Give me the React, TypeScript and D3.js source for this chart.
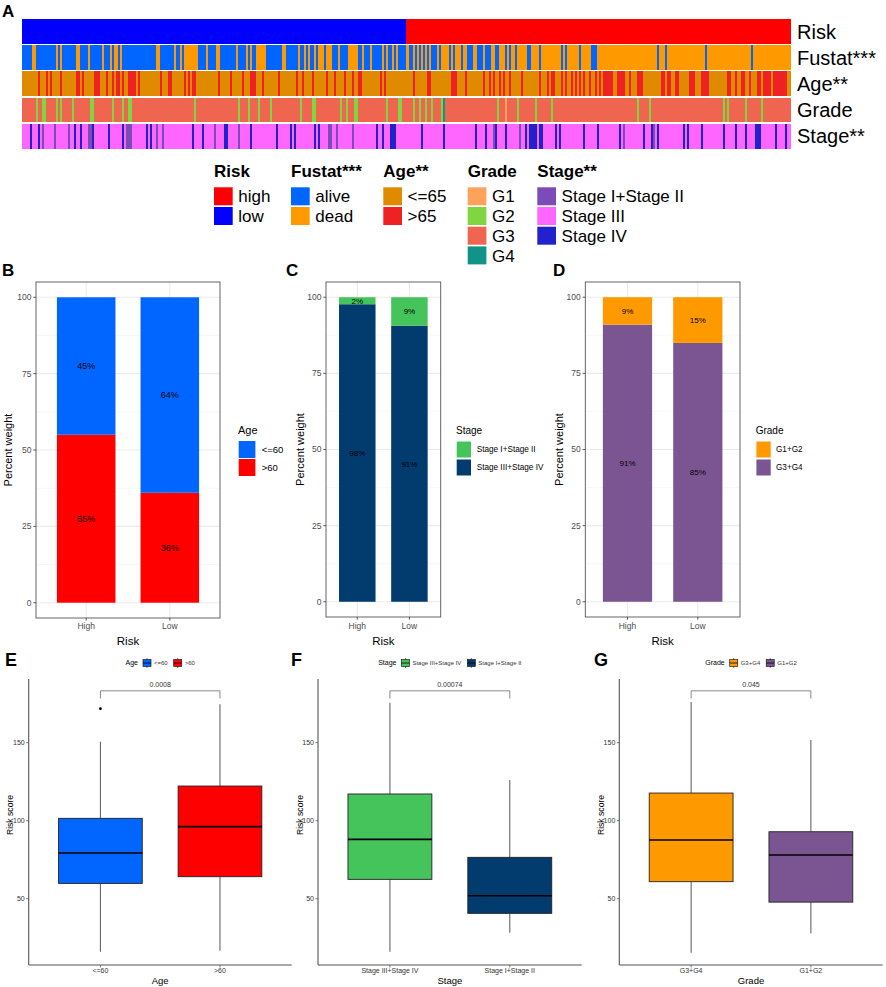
import React from 'react';
import * as d3 from 'd3';

const FONT = "'Liberation Sans', Arial, Helvetica, sans-serif";

// ---------------- Heatmap (panel A) data ----------------
const N_SAMPLES = 385;
const RISK_LOW_COUNT = 192;

const fustatDead: [number, number][] = [
  [5, 7], [17, 18], [19, 20], [27, 29], [33, 34], [40, 41], [44, 45], [46, 48], [49, 50], [67, 69], [76, 77], [79, 80], [81, 88],
  [92, 93], [97, 99], [107, 108], [112, 113], [114, 115], [117, 122], [130, 132], [138, 139], [141, 142], [143, 144], [146, 147],
  [148, 151], [152, 155], [158, 159], [163, 168], [170, 171], [174, 175], [180, 181], [182, 183], [185, 186], [187, 188],
  [192, 194], [196, 197], [198, 199], [200, 201], [202, 203], [204, 205], [208, 209], [210, 214], [215, 216], [217, 220],
  [221, 223], [226, 228], [231, 232], [235, 237], [239, 242], [243, 244], [245, 247], [248, 253], [255, 259], [260, 270],
  [271, 272], [273, 279], [280, 285], [288, 318], [319, 322], [323, 342], [343, 365], [366, 385],
];

const ageOver65: [number, number][] = [
  [8, 9], [12, 13], [14, 15], [19, 20], [27, 29], [30, 31], [36, 39], [42, 43], [45, 46], [47, 49], [50, 51], [53, 57], [58, 59],
  [69, 70], [73, 75], [81, 82], [83, 84], [85, 87], [98, 99], [104, 105], [110, 111], [114, 117], [120, 121], [128, 129],
  [137, 138], [140, 141], [145, 146], [152, 153], [156, 157], [161, 162], [165, 166], [168, 170], [179, 180], [181, 182],
  [196, 197], [203, 205], [215, 218], [222, 223], [231, 232], [234, 235], [236, 237], [239, 240], [241, 242], [244, 245],
  [250, 251], [259, 260], [263, 264], [265, 267], [270, 271], [272, 273], [275, 276], [277, 278], [279, 280], [281, 282],
  [284, 285], [287, 288], [289, 290], [291, 296], [298, 302], [304, 305], [308, 311], [320, 322], [323, 325], [327, 329],
  [334, 337], [340, 344], [353, 355], [357, 358], [360, 362], [364, 365], [368, 370], [371, 375], [376, 383],
];

const gradeG2: [number, number][] = [
  [7, 8], [10, 12], [17, 18], [19, 20], [25, 26], [34, 36], [45, 46], [50, 51], [53, 55], [86, 87], [108, 109], [113, 114],
  [118, 119], [124, 125], [139, 140], [145, 147], [159, 160], [162, 163], [166, 168], [182, 183], [188, 190], [196, 197],
  [199, 200], [202, 203], [205, 206], [210, 211], [238, 239], [248, 249], [257, 258], [265, 266], [308, 309], [314, 315],
  [351, 352], [353, 354], [362, 363], [370, 371],
];
const gradeG1: [number, number][] = [[242, 243]];
const gradeG4: [number, number][] = [[211, 212]];

const stageIV: [number, number][] = [
  [4, 5], [8, 9], [26, 27], [29, 30], [35, 36], [43, 44], [50, 51], [62, 63], [64, 65], [85, 86], [90, 91], [101, 103],
  [114, 115], [127, 128], [134, 135], [136, 137], [146, 147], [148, 149], [177, 178], [180, 181], [184, 187], [200, 201],
  [211, 212], [227, 228], [232, 233], [237, 238], [242, 243], [252, 253], [254, 258], [259, 261], [267, 268], [269, 270],
  [281, 282], [288, 289], [299, 300], [311, 312], [315, 316], [318, 319], [331, 332], [333, 334], [340, 341], [351, 352],
  [357, 358], [362, 363], [367, 370], [377, 378], [382, 383],
];
const stageI_II: [number, number][] = [
  [10, 11], [16, 17], [23, 24], [33, 35], [52, 55], [67, 68], [70, 71], [96, 97], [108, 109], [153, 155], [157, 158],
  [165, 166], [236, 237], [249, 250], [301, 302], [316, 317],
];

const riskLevels = ['high', 'low'];
const riskColors = ['#FF0000', '#0000FF'];
const fustatLevels = ['alive', 'dead'];
const fustatColors = ['#0066FF', '#FF9900'];
const ageLevels = ['<=65', '>65'];
const ageColors = ['#E08A00', '#EE2222'];
const gradeLevels = ['G1', 'G2', 'G3', 'G4'];
const gradeColors = ['#FFA35C', '#80D641', '#F0654F', '#109488'];
const stageLevels = ['Stage I+Stage II', 'Stage III', 'Stage IV'];
const stageColors = ['#7B4BB8', '#FF66FF', '#2222CC'];
const heatRowLabels = ['Risk', 'Fustat***', 'Age**', 'Grade', 'Stage**'];
const legendTitles = ['Risk', 'Fustat***', 'Age**', 'Grade', 'Stage**'];

// ---------------- Bar panels (B, C, D) data ----------------
const riskGroups = ['High', 'Low'];
const ageBarLevels = ['<=60', '>60'];
const ageBarColors = ['#0066FF', '#FF0000'];
const agePctUnder60 = [45, 64];
const agePctOver60 = [55, 36];

const stageBarLevels = ['Stage I+Stage II', 'Stage III+Stage IV'];
const stageBarColors = ['#46C45C', '#023B6E'];
const stagePctI_II = [2.3, 9.4];
const stagePctIII_IV = [97.7, 90.6];

const gradeBarLevels = ['G1+G2', 'G3+G4'];
const gradeBarColors = ['#FF9900', '#7B5592'];
const gradePctG1G2 = [9, 15];
const gradePctG3G4 = [91, 85];

const pctTicks = [0, 25, 50, 75, 100];

// ---------------- Box panels (E, F, G) data ----------------
// [lower whisker, Q1, median, Q3, upper whisker]
const ageBoxCats = ['<=60', '>60'];
const ageBoxColors = ['#0066FF', '#FF0000'];
const ageBoxStats = [[16, 59.8, 79.3, 101.5, 150.6], [16.7, 64.1, 96.2, 122.2, 174.6]];
const ageBoxOutliers = [[171.8], []];
const ageP = '0.0008';

const stageBoxCats = ['Stage III+Stage IV', 'Stage I+Stage II'];
const stageBoxColors = ['#46C45C', '#023B6E'];
const stageBoxStats = [[16, 62.4, 88, 117.1, 175.6], [28.2, 40.6, 51.9, 76.5, 126.1]];
const stageBoxOutliers = [[], []];
const stageP = '0.00074';

const gradeBoxCats = ['G3+G4', 'G1+G2'];
const gradeBoxColors = ['#FF9900', '#7B5592'];
const gradeBoxStats = [[15.4, 60.9, 87.6, 117.7, 176], [27.8, 47.8, 78, 92.9, 151.7]];
const gradeBoxOutliers = [[], []];
const gradeP = '0.045';

const scoreTicks = [50, 100, 150];
const bracketValue = 183.2;
const bracketDrop = 178.3;

// ---------------- helpers ----------------
let measureCtx: CanvasRenderingContext2D | null = null;
function textWidth(t: string, size: number, weight = 'normal') {
  if (!measureCtx) measureCtx = document.createElement('canvas').getContext('2d');
  if (!measureCtx) return t.length * size * 0.55;
  measureCtx.font = `${weight} ${size}px ${FONT}`;
  return measureCtx.measureText(t).width;
}

function buildRow(defaultVal: string, overrides: [string, [number, number][]][]) {
  const arr: string[] = new Array(N_SAMPLES).fill(defaultVal);
  for (const [val, ivs] of overrides) {
    for (const [a, b] of ivs) for (let i = a; i < b && i < N_SAMPLES; i++) arr[i] = val;
  }
  return arr;
}

function toRuns(arr: string[]) {
  const runs: { start: number; end: number; value: string }[] = [];
  let s = 0;
  for (let i = 1; i <= arr.length; i++) {
    if (i === arr.length || arr[i] !== arr[s]) {
      runs.push({ start: s, end: i, value: arr[s] });
      s = i;
    }
  }
  return runs;
}

// ---------------- Panel A ----------------
function Heatmap() {
  const x = d3.scaleLinear().domain([0, N_SAMPLES]).range([22, 791]);
  const rowY = d3.scaleLinear().domain([0, 1]).range([19, 45.2]);
  const rowH = 24.7;

  const rows = [
    { values: buildRow('low', [['high', [[RISK_LOW_COUNT, N_SAMPLES]]]]), levels: riskLevels, colors: riskColors },
    { values: buildRow('alive', [['dead', fustatDead]]), levels: fustatLevels, colors: fustatColors },
    { values: buildRow('<=65', [['>65', ageOver65]]), levels: ageLevels, colors: ageColors },
    { values: buildRow('G3', [['G2', gradeG2], ['G1', gradeG1], ['G4', gradeG4]]), levels: gradeLevels, colors: gradeColors },
    { values: buildRow('Stage III', [['Stage IV', stageIV], ['Stage I+Stage II', stageI_II]]), levels: stageLevels, colors: stageColors },
  ];

  const legendX = [214, 291, 383.3, 467.7, 537.3];
  const legendGroups = [
    { levels: riskLevels, colors: riskColors },
    { levels: fustatLevels, colors: fustatColors },
    { levels: ageLevels, colors: ageColors },
    { levels: gradeLevels, colors: gradeColors },
    { levels: stageLevels, colors: stageColors },
  ];

  return (
    <g>
      <text x={2} y={17} fontSize={17} fontWeight="bold" fontFamily={FONT}>A</text>
      {rows.map((row, ri) => {
        const color = d3.scaleOrdinal<string, string>().domain(row.levels).range(row.colors);
        return (
          <g key={ri}>
            {toRuns(row.values).map((r, k) => (
              <rect key={k} x={x(r.start)} y={rowY(ri)} width={x(r.end) - x(r.start)} height={rowH}
                fill={color(r.value)} shapeRendering="crispEdges" />
            ))}
            <text x={797} y={rowY(ri) + rowH / 2} dy="0.36em" fontSize={20} fontFamily={FONT}>{heatRowLabels[ri]}</text>
          </g>
        );
      })}
      {legendGroups.map((g, gi) => (
        <g key={gi}>
          <text x={legendX[gi]} y={177} fontSize={17} fontWeight="bold" fontFamily={FONT}>{legendTitles[gi]}</text>
          {g.levels.map((lv, li) => (
            <g key={li}>
              <rect x={legendX[gi]} y={187.3 + li * 19.7} width={18.7} height={18} fill={g.colors[li]} />
              <text x={legendX[gi] + 24.3} y={187.3 + li * 19.7 + 9} dy="0.36em" fontSize={17} fontFamily={FONT}>{lv}</text>
            </g>
          ))}
        </g>
      ))}
    </g>
  );
}

// ---------------- Bar panel ----------------
type BarProps = {
  letter: string; letterX: number;
  left: number; right: number; top: number; bottom: number;
  levels: string[]; colors: string[]; values: number[][]; // values[level][group], level order = legend order (top of stack first)
  legendTitle: string; legendX: number; keyW: number; keyH: number; keyGap: number; labelOff: number;
  titleSize: number; labelSize: number; pctSize: number; yTitleX: number;
};

function BarPanel(p: BarProps) {
  const x = d3.scaleLinear().domain([0.4, 2.6]).range([p.left, p.right]);
  const y = d3.scaleLinear().domain([-5, 105]).range([p.bottom, p.top]);
  const bw = x(1.35) - x(0.65);
  const minor = [12.5, 37.5, 62.5, 87.5];
  const stackOrder = [...p.levels.keys()].reverse();
  const segs: { g: number; lv: number; y0: number; y1: number }[] = [];
  riskGroups.forEach((_, gi) => {
    let acc = 0;
    stackOrder.forEach((lv) => {
      const v = p.values[lv][gi];
      segs.push({ g: gi, lv, y0: acc, y1: acc + v });
      acc += v;
    });
  });
  const midY = (p.top + p.bottom) / 2;
  const legTop = 441 - (p.keyH - 17) / 2;
  return (
    <g fontFamily={FONT}>
      <text x={p.letterX} y={276} fontSize={17} fontWeight="bold">{p.letter}</text>
      <rect x={p.left} y={p.top} width={p.right - p.left} height={p.bottom - p.top} fill="#fff" />
      {minor.map((t) => (
        <line key={'m' + t} x1={p.left} x2={p.right} y1={y(t)} y2={y(t)} stroke="#F2F2F2" strokeWidth={0.6} />
      ))}
      {pctTicks.map((t) => (
        <line key={'M' + t} x1={p.left} x2={p.right} y1={y(t)} y2={y(t)} stroke="#EBEBEB" strokeWidth={1.1} />
      ))}
      {riskGroups.map((_, gi) => (
        <line key={'v' + gi} x1={x(gi + 1)} x2={x(gi + 1)} y1={p.top} y2={p.bottom} stroke="#EBEBEB" strokeWidth={1.1} />
      ))}
      {segs.map((s, i) => (
        <rect key={i} x={x(s.g + 1) - bw / 2} y={y(s.y1)} width={bw} height={y(s.y0) - y(s.y1)} fill={p.colors[s.lv]} />
      ))}
      {segs.map((s, i) => (
        <text key={'t' + i} x={x(s.g + 1)} y={y((s.y0 + s.y1) / 2)} dy="0.35em" textAnchor="middle" fontSize={p.pctSize} fill="#000">
          {Math.round(s.y1 - s.y0)}%
        </text>
      ))}
      <rect x={p.left} y={p.top} width={p.right - p.left} height={p.bottom - p.top} fill="none" stroke="#555" strokeWidth={0.9} />
      {pctTicks.map((t) => (
        <g key={'yt' + t}>
          <line x1={p.left - 2.7} x2={p.left} y1={y(t)} y2={y(t)} stroke="#333" strokeWidth={0.8} />
          <text x={p.left - 4.5} y={y(t)} dy="0.35em" textAnchor="end" fontSize={8.5} fill="#4D4D4D">{t}</text>
        </g>
      ))}
      {riskGroups.map((gname, gi) => (
        <g key={'xt' + gi}>
          <line x1={x(gi + 1)} x2={x(gi + 1)} y1={p.bottom} y2={p.bottom + 2.7} stroke="#333" strokeWidth={0.8} />
          <text x={x(gi + 1)} y={626.5} dy="0.35em" textAnchor="middle" fontSize={8.5} fill="#4D4D4D">{gname}</text>
        </g>
      ))}
      <text x={(p.left + p.right) / 2} y={640.5} dy="0.35em" textAnchor="middle" fontSize={11.5}>Risk</text>
      <text transform={`translate(${p.yTitleX},${midY}) rotate(-90)`} dy="0.35em" textAnchor="middle" fontSize={11}>Percent weight</text>
      <text x={p.legendX} y={433.5} fontSize={p.titleSize}>{p.legendTitle}</text>
      {p.levels.map((lv, li) => (
        <g key={'lg' + li}>
          <rect x={p.legendX + 0.7} y={legTop + li * p.keyGap} width={p.keyW} height={p.keyH} fill={p.colors[li]} />
          <text x={p.legendX + p.labelOff} y={legTop + li * p.keyGap + p.keyH / 2} dy="0.35em" fontSize={p.labelSize}>{lv}</text>
        </g>
      ))}
    </g>
  );
}

// ---------------- Box panel ----------------
type BoxProps = {
  letter: string; letterX: number; left: number; right: number;
  cats: string[]; colors: string[]; stats: number[][]; outliers: number[][];
  legendTitle: string; pText: string; xTitle: string;
};

function BoxPanel(p: BoxProps) {
  const x = d3.scaleLinear().domain([0.4, 2.6]).range([p.left, p.right]);
  const y = d3.scaleLinear().domain([7.5, 190.8]).range([965, 679]);
  const half = x(1.35) - x(1);
  const midY = (679 + 965) / 2;

  const titleW = textWidth(p.legendTitle, 7);
  const labW = p.cats.map((c) => textWidth(c, 6));
  const glyphW = 8;
  const total = titleW + 5 + (glyphW + 3) * 2 + labW[0] + 6 + labW[1];
  let lx = (p.left + p.right) / 2 - total / 2;
  const legY = 663;
  const items: React.ReactNode[] = [];
  items.push(<text key="lt" x={lx} y={legY} dy="0.35em" fontSize={7} fill="#000">{p.legendTitle}</text>);
  lx += titleW + 5;
  p.cats.forEach((c, i) => {
    const gx = lx;
    items.push(
      <g key={'lg' + i}>
        <line x1={gx + glyphW / 2} x2={gx + glyphW / 2} y1={legY - 5} y2={legY + 5} stroke="#333" strokeWidth={0.7} />
        <rect x={gx} y={legY - 3.5} width={glyphW} height={7} fill={p.colors[i]} stroke="#222" strokeWidth={0.7} />
        <line x1={gx} x2={gx + glyphW} y1={legY} y2={legY} stroke="#000" strokeWidth={0.8} />
        <text x={gx + glyphW + 3} y={legY} dy="0.35em" fontSize={6} fill="#333">{c}</text>
      </g>
    );
    lx += glyphW + 3 + labW[i] + 6;
  });

  const by = y(bracketValue);
  const bd = y(bracketDrop);
  return (
    <g fontFamily={FONT}>
      <text x={p.letterX} y={665.5} fontSize={18} fontWeight="bold">{p.letter}</text>
      {items}
      {p.stats.map((s, i) => {
        const cx = x(i + 1);
        return (
          <g key={i}>
            <line x1={cx} x2={cx} y1={y(s[0])} y2={y(s[1])} stroke="#666" strokeWidth={1.1} />
            <line x1={cx} x2={cx} y1={y(s[3])} y2={y(s[4])} stroke="#666" strokeWidth={1.1} />
            <rect x={cx - half} y={y(s[3])} width={half * 2} height={y(s[1]) - y(s[3])} fill={p.colors[i]} stroke="#222" strokeWidth={0.9} />
            <line x1={cx - half} x2={cx + half} y1={y(s[2])} y2={y(s[2])} stroke="#000" strokeWidth={1.6} />
            {p.outliers[i].map((o, k) => (
              <circle key={k} cx={cx} cy={y(o)} r={1.4} fill="#000" />
            ))}
          </g>
        );
      })}
      <path d={`M${x(1)},${bd}V${by}H${x(2)}V${bd}`} fill="none" stroke="#888" strokeWidth={1} />
      <text x={(x(1) + x(2)) / 2} y={by - 4} textAnchor="middle" fontSize={7} fill="#333">{p.pText}</text>
      <line x1={p.left} x2={p.left} y1={679} y2={965} stroke="#555" strokeWidth={1.1} />
      <line x1={p.left} x2={p.right} y1={965} y2={965} stroke="#555" strokeWidth={1.1} />
      {scoreTicks.map((t) => (
        <g key={t}>
          <line x1={p.left - 2.5} x2={p.left} y1={y(t)} y2={y(t)} stroke="#555" strokeWidth={0.8} />
          <text x={p.left - 4} y={y(t)} dy="0.35em" textAnchor="end" fontSize={7} fill="#333">{t}</text>
        </g>
      ))}
      {p.cats.map((c, i) => (
        <g key={'x' + i}>
          <line x1={x(i + 1)} x2={x(i + 1)} y1={965} y2={967.5} stroke="#555" strokeWidth={0.8} />
          <text x={x(i + 1)} y={971} dy="0.35em" textAnchor="middle" fontSize={7} fill="#333">{c}</text>
        </g>
      ))}
      <text x={(p.left + p.right) / 2} y={981} dy="0.35em" textAnchor="middle" fontSize={9.5}>{p.xTitle}</text>
      <text transform={`translate(${p.left - 18.5},${midY - 7}) rotate(-90)`} dy="0.35em" textAnchor="middle" fontSize={8.6}>Risk score</text>
    </g>
  );
}

export default function App() {
  return (
    <div style={{ position: 'absolute', left: 0, top: 0, background: '#fff' }}>
      <svg width={886} height={987} viewBox="0 0 886 987" style={{ display: 'block', background: '#fff' }}>
        <rect width={886} height={987} fill="#fff" />
        <Heatmap />
        <BarPanel letter="B" letterX={2} left={36} right={220} top={282} bottom={618}
          levels={ageBarLevels} colors={ageBarColors} values={[agePctUnder60, agePctOver60]}
          legendTitle="Age" legendX={238} keyW={16.7} keyH={17} keyGap={18} labelOff={23.7}
          titleSize={11} labelSize={9.5} pctSize={9} yTitleX={8} />
        <BarPanel letter="C" letterX={286} left={326} right={440.7} top={282} bottom={617}
          levels={stageBarLevels} colors={stageBarColors} values={[stagePctI_II, stagePctIII_IV]}
          legendTitle="Stage" legendX={456} keyW={14.3} keyH={16} keyGap={18} labelOff={20.7}
          titleSize={10} labelSize={8.2} pctSize={8} yTitleX={300} />
        <BarPanel letter="D" letterX={553} left={585.3} right={740} top={282} bottom={617}
          levels={gradeBarLevels} colors={gradeBarColors} values={[gradePctG1G2, gradePctG3G4]}
          legendTitle="Grade" legendX={755.7} keyW={14.3} keyH={16} keyGap={18} labelOff={20.3}
          titleSize={10} labelSize={8.2} pctSize={8} yTitleX={559.3} />
        <BoxPanel letter="E" letterX={5} left={28.7} right={291.7} cats={ageBoxCats} colors={ageBoxColors}
          stats={ageBoxStats} outliers={ageBoxOutliers} legendTitle="Age" pText={ageP} xTitle="Age" />
        <BoxPanel letter="F" letterX={291} left={318} right={581.7} cats={stageBoxCats} colors={stageBoxColors}
          stats={stageBoxStats} outliers={stageBoxOutliers} legendTitle="Stage" pText={stageP} xTitle="Stage" />
        <BoxPanel letter="G" letterX={594} left={619.3} right={882.7} cats={gradeBoxCats} colors={gradeBoxColors}
          stats={gradeBoxStats} outliers={gradeBoxOutliers} legendTitle="Grade" pText={gradeP} xTitle="Grade" />
      </svg>
    </div>
  );
}
